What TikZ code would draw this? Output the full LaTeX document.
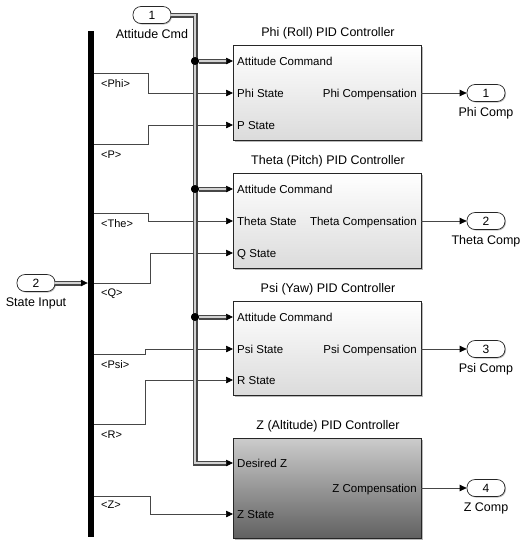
\documentclass[tikz,border=0pt]{standalone}
\usepackage{fontspec}
\setmainfont{Liberation Sans}
\usepackage{tikz}
\usetikzlibrary{positioning,arrows.meta,calc,shadows}
\definecolor{WireGray}{RGB}{70,70,70}
\newcommand{\ctrlblock}[5]{%
    \node[block,#5,minimum height=#3pt] (#1) at (327,{#2+#3/2}) {};
    \node[font=\fontsize{12.5}{14}\selectfont] (#1title) at (328,{#2-12}) {#4};
}
\newcommand{\portin}[3]{%
    \coordinate (#1) at (233,#2);
    \node[plabel,anchor=west] (#1text) at (236,#2) {#3};
}
\newcommand{\portout}[3]{%
    \coordinate (#1) at (421,#2);
    \node[plabel,anchor=east] (#1text) at (418,#2) {#3};
}

\begin{document}
\begin{tikzpicture}[x=1pt,y=-1pt,
    font=\fontsize{11.5}{13}\selectfont,
    block/.style={draw=black!85,line width=0.8pt,minimum width=188pt,inner sep=0pt,
        drop shadow={shadow xshift=1.5pt,shadow yshift=-1.5pt,opacity=0.55}},
    lightblk/.style={top color=white,bottom color=black!14},
    darkblk/.style={top color=black!20,bottom color=black!62},
    plabel/.style={inner sep=1pt,text height=8.2pt,text depth=0pt},
    blabel/.style={anchor=west,inner sep=1pt,font=\fontsize{11}{12}\selectfont},
    pname/.style={font=\fontsize{12.5}{14}\selectfont},
    port/.style={draw=black!85,line width=0.7pt,rounded corners=8pt,fill=white,
        minimum width=38pt,minimum height=17pt,inner sep=0pt,font=\fontsize{12}{13}\selectfont,
        drop shadow={shadow xshift=1pt,shadow yshift=-1pt,opacity=0.5}},
    sig/.style={draw=WireGray,line width=0.7pt,-{Triangle[length=7pt,width=6.5pt,color=black]}},
    bus/.style={draw=black!18,line width=1.8pt,preaction={draw=black!72,line width=5pt}},
    dot/.style={circle,fill=black,inner sep=0pt,minimum size=8pt}]
    \useasboundingbox (0,0) rectangle (527,550);

    % controller blocks
    \ctrlblock{phi}{45}{95}{Phi (Roll) PID Controller}{lightblk}
    \ctrlblock{theta}{173}{95}{Theta (Pitch) PID Controller}{lightblk}
    \ctrlblock{psi}{301}{94}{Psi (Yaw) PID Controller}{lightblk}
    \ctrlblock{alt}{438}{100}{Z (Altitude) PID Controller}{darkblk}

    \portin{phiA}{61}{Attitude Command}
    \portin{phiS}{93}{Phi State}
    \portin{phiP}{125}{P State}
    \portout{phiO}{93}{Phi Compensation}
    \portin{thetaA}{189}{Attitude Command}
    \portin{thetaS}{221}{Theta State}
    \portin{thetaQ}{253}{Q State}
    \portout{thetaO}{221}{Theta Compensation}
    \portin{psiA}{317}{Attitude Command}
    \portin{psiS}{349}{Psi State}
    \portin{psiR}{380}{R State}
    \portout{psiO}{349}{Psi Compensation}
    \portin{altD}{463}{Desired Z}
    \portin{altZ}{514}{Z State}
    \portout{altO}{488}{Z Compensation}

    % in and out ports
    \node[port] (in1) at (152,15) {1};
    \node[pname,below=2pt of in1] (in1name) {Attitude Cmd};
    \node[port] (in2) at (36,283) {2};
    \node[pname,below=2pt of in2] (in2name) {State Input};
    \node[port] (out1) at (486,93) {1};
    \node[pname,below=2pt of out1] (out1name) {Phi Comp};
    \node[port] (out2) at (486,221) {2};
    \node[pname,below=2pt of out2] (out2name) {Theta Comp};
    \node[port] (out3) at (486,349) {3};
    \node[pname,below=2pt of out3] (out3name) {Psi Comp};
    \node[port] (out4) at (486,488) {4};
    \node[pname,below=2pt of out4] (out4name) {Z Comp};

    \draw[sig] (phiO) -- (out1);
    \draw[sig] (thetaO) -- (out2);
    \draw[sig] (psiO) -- (out3);
    \draw[sig] (altO) -- (out4);

    % bus selector bar and its outputs
    \node[fill=black,minimum width=6pt,minimum height=506pt,inner sep=0pt] (demux) at (91,284) {};
    \coordinate (tPhi) at (94,73);
    \coordinate (tP) at (94,144);
    \coordinate (tThe) at (94,213);
    \coordinate (tQ) at (94,283);
    \coordinate (tPsi) at (94,354);
    \coordinate (tR) at (94,424);
    \coordinate (tZ) at (94,496);
    \draw[sig] (tPhi) -- ++(54,0) |- (phiS);
    \draw[sig] (tP) -- ++(54,0) |- (phiP);
    \draw[sig] (tThe) -- ++(54,0) |- (thetaS);
    \draw[sig] (tQ) -- ++(56,0) |- (thetaQ);
    \draw[sig] (tPsi) -- ++(51,0) |- (psiS);
    \draw[sig] (tR) -- ++(51,0) |- (psiR);
    \draw[sig] (tZ) -- ++(56,0) |- (altZ);
    \node[blabel] (lPhi) at (100,84) {<Phi>};
    \node[blabel] (lP) at (100,155) {<P>};
    \node[blabel] (lThe) at (100,224) {<The>};
    \node[blabel] (lQ) at (100,294) {<Q>};
    \node[blabel] (lPsi) at (100,365) {<Psi>};
    \node[blabel] (lR) at (100,435) {<R>};
    \node[blabel] (lZ) at (100,505) {<Z>};

    % attitude command bus
    \node[dot] (j1) at (195,61) {};
    \node[dot] (j2) at (195,189) {};
    \node[dot] (j3) at (195,317) {};
    \draw[sig] (in1.east) -- ++(24,0) |- (altD);
    \draw[sig] (j1) -- (phiA);
    \draw[sig] (j2) -- (thetaA);
    \draw[sig] (j3) -- (psiA);
    \draw[sig] (in2) -- (in2 -| demux.west);
    \draw[bus,shorten >=7pt] (in1.east) -- ++(24,0) |- (altD);
    \draw[bus,shorten >=7pt] (j1) -- (phiA);
    \draw[bus,shorten >=7pt] (j2) -- (thetaA);
    \draw[bus,shorten >=7pt] (j3) -- (psiA);
    \draw[bus,shorten >=7pt] (in2) -- (in2 -| demux.west);
    \fill (j1) circle (4pt) (j2) circle (4pt) (j3) circle (4pt);
\end{tikzpicture}
\end{document}
